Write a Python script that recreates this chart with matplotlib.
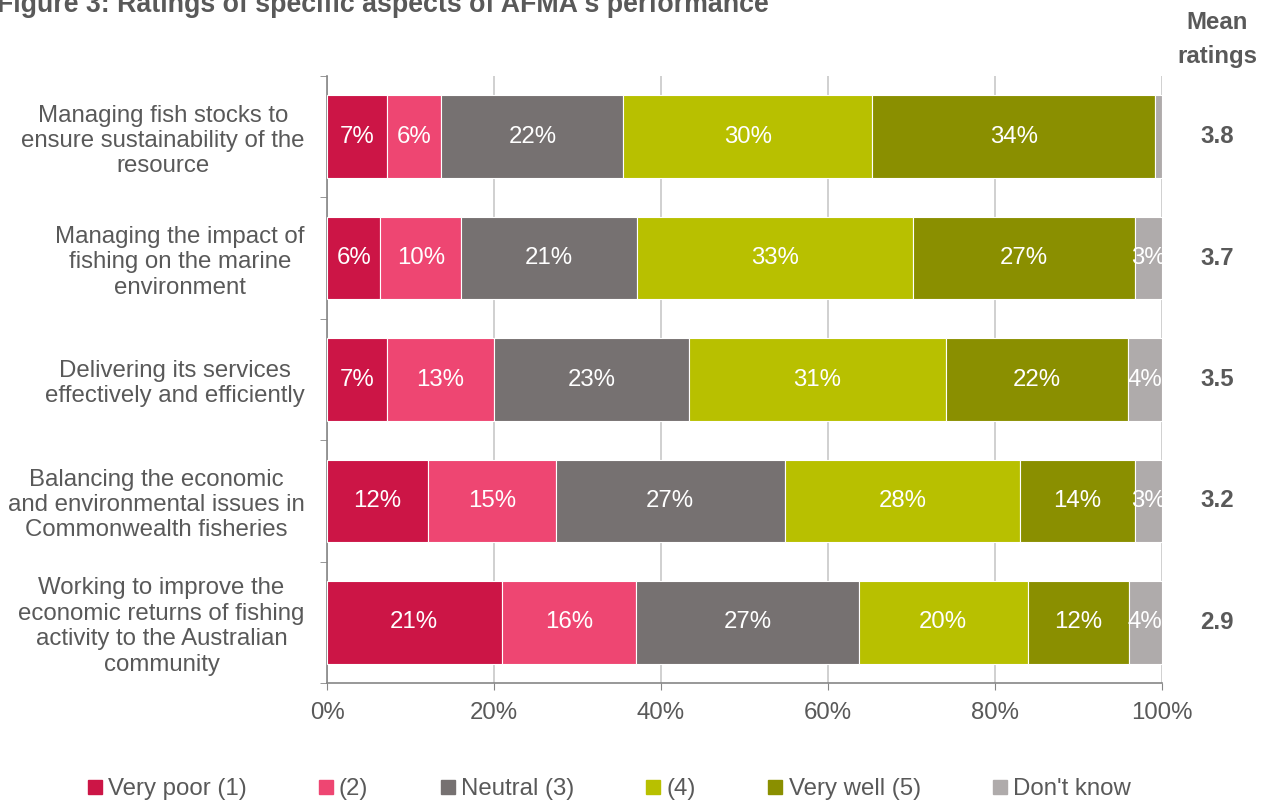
import matplotlib.pyplot as plt
import numpy as np
from matplotlib.lines import Line2D

plt.rcParams['font.family'] = ['Liberation Sans', 'DejaVu Sans']

# Survey items (top to bottom)
items = [
    'Managing fish stocks to\nensure sustainability of the\nresource',
    'Managing the impact of\nfishing on the marine\nenvironment',
    'Delivering its services\neffectively and efficiently',
    'Balancing the economic\nand environmental issues in\nCommonwealth fisheries',
    'Working to improve the\neconomic returns of fishing\nactivity to the Australian\ncommunity',
]

# Share of respondents (%) per rating
very_poor = [7.2, 6.4, 7.2, 12.1, 20.9]
rating_2 = [6.5, 9.7, 12.8, 15.3, 16.1]
neutral = [21.8, 21.0, 23.4, 27.4, 26.7]
rating_4 = [29.8, 33.1, 30.7, 28.2, 20.2]
very_well = [33.9, 26.6, 21.8, 13.8, 12.1]
dont_know = [0.8, 3.2, 4.1, 3.2, 4.0]

mean_ratings = [3.8, 3.7, 3.5, 3.2, 2.9]

series_names = ['Very poor (1)', '(2)', 'Neutral (3)', '(4)', 'Very well (5)', "Don't know"]
colors = ['#CC1546', '#EE4672', '#767171', '#B8C000', '#8A8F00', '#AFABAB']

text_color = '#595959'
fs = 17.3

fig = plt.figure(figsize=(12.73, 8.02), dpi=100)
ax = fig.add_axes([0.2569, 0.1484, 0.6559, 0.7568])

y = np.arange(len(items))
left = np.zeros(len(items))
for vals, name, col in zip([very_poor, rating_2, neutral, rating_4, very_well, dont_know],
                           series_names, colors):
    vals = np.array(vals)
    ax.barh(y, vals, left=left, height=0.68, color=col, edgecolor='white',
            linewidth=0.8, label=name, zorder=3)
    for yi, l, v in zip(y, left, vals):
        if v >= 2:
            ax.text(l + v / 2, yi, f'{round(v):.0f}%', ha='center', va='center',
                    color='white', fontsize=fs, zorder=4)
    left += vals

ax.set_xlim(0, 100)
ax.set_ylim(len(items) - 0.5, -0.5)
ax.set_xticks(np.arange(0, 101, 20))
ax.set_xticklabels([f'{t}%' for t in range(0, 101, 20)], fontsize=fs, color=text_color)
ax.set_yticks(y)
ax.set_yticklabels(items, fontsize=fs, color=text_color, multialignment='center')
ax.set_yticks(np.arange(-0.5, len(items)), minor=True)
ax.tick_params(axis='y', which='major', length=0, pad=16)
ax.tick_params(axis='y', which='minor', length=5, color='#868686', direction='out')
ax.tick_params(axis='x', length=5, color='#868686', pad=9)

ax.grid(axis='x', color='#C8C8C8', linewidth=1.2, zorder=0)
for s in ['top', 'right']:
    ax.spines[s].set_visible(False)
for s in ['left', 'bottom']:
    ax.spines[s].set_color('#868686')
    ax.spines[s].set_linewidth(1.2)

# Mean ratings column
fig.text(0.956, 0.972, 'Mean', ha='center', va='center', fontsize=fs,
         fontweight='bold', color=text_color)
fig.text(0.956, 0.929, 'ratings', ha='center', va='center', fontsize=fs,
         fontweight='bold', color=text_color)
for yi, m in zip(y, mean_ratings):
    ax.text(1.066, yi, f'{m:.1f}', transform=ax.get_yaxis_transform(),
            ha='center', va='center', fontsize=fs, fontweight='bold', color=text_color)

fig.text(-0.002, 1 - 12 / 802, "Figure 3: Ratings of specific aspects of AFMA's performance",
         ha='left', va='baseline', fontsize=19.3, fontweight='bold', color=text_color)

handles = [Line2D([], [], marker='s', linestyle='none', markersize=10,
                  markerfacecolor=c, markeredgecolor=c) for c in colors]
fig.legend(handles, series_names, loc='center', bbox_to_anchor=(0.479, 0.016),
           ncol=6, frameon=False, fontsize=fs, labelcolor=text_color,
           handlelength=0.5, handletextpad=0.3, columnspacing=3.05)

fig.savefig('out.png', dpi=100)
